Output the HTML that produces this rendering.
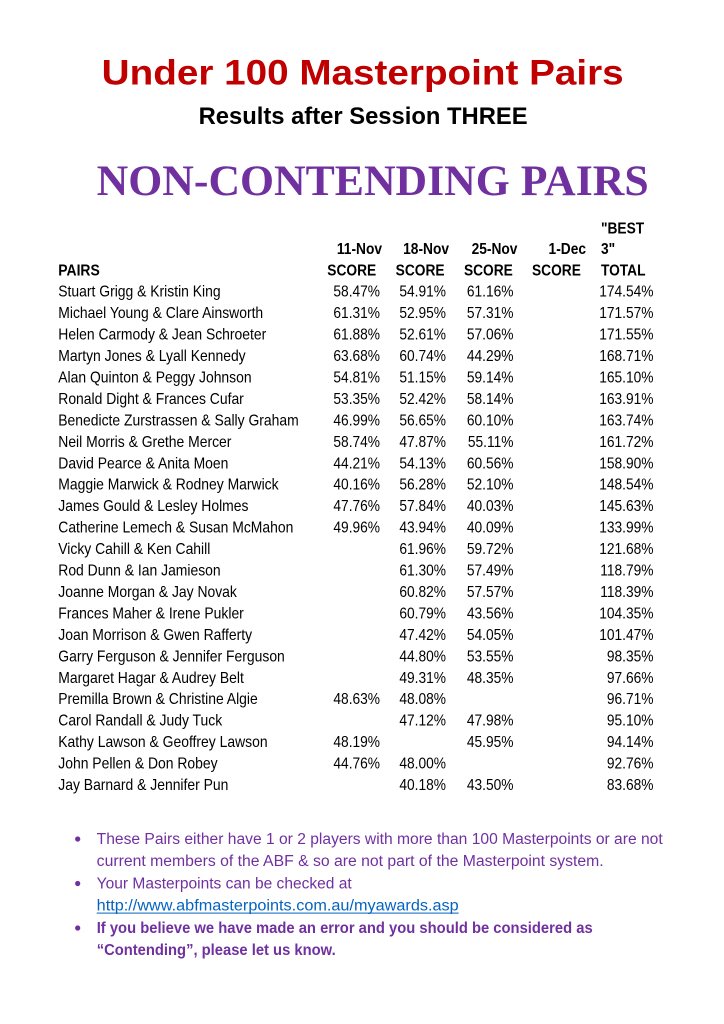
<!DOCTYPE html>
<html><head><meta charset="utf-8"><style>
html,body{margin:0;padding:0;background:#fff;}
svg{display:block;}
</style></head><body>
<svg width="724" height="1024" viewBox="0 0 724 1024" xmlns="http://www.w3.org/2000/svg">
<rect width="724" height="1024" fill="#fff"/>
<text x="101.7" y="84.3" font-family="Liberation Sans, sans-serif" font-weight="bold" font-size="35" fill="#C00000" textLength="522" lengthAdjust="spacingAndGlyphs">Under 100 Masterpoint Pairs</text>
<text x="198.6" y="124" font-family="Liberation Sans, sans-serif" font-weight="bold" font-size="24" fill="#000" textLength="329" lengthAdjust="spacingAndGlyphs">Results after Session THREE</text>
<text x="96.7" y="195" font-family="Liberation Serif, serif" font-weight="bold" font-size="43" fill="#7030A0" textLength="552" lengthAdjust="spacingAndGlyphs">NON-CONTENDING PAIRS</text>

<g transform="scale(0.87 1)" font-family="Liberation Sans, sans-serif" font-size="16" fill="#000">
<text x="67.0" y="275.7" font-weight="bold">PAIRS</text>
<text x="67.0" y="296.7">Stuart Grigg &amp; Kristin King</text>
<text x="67.0" y="318.15">Michael Young &amp; Clare Ainsworth</text>
<text x="67.0" y="339.6">Helen Carmody &amp; Jean Schroeter</text>
<text x="67.0" y="361.05">Martyn Jones &amp; Lyall Kennedy</text>
<text x="67.0" y="382.5">Alan Quinton &amp; Peggy Johnson</text>
<text x="67.0" y="403.95">Ronald Dight &amp; Frances Cufar</text>
<text x="67.0" y="425.4">Benedicte Zurstrassen &amp; Sally Graham</text>
<text x="67.0" y="446.85">Neil Morris &amp; Grethe Mercer</text>
<text x="67.0" y="468.3">David Pearce &amp; Anita Moen</text>
<text x="67.0" y="489.75">Maggie Marwick &amp; Rodney Marwick</text>
<text x="67.0" y="511.2">James Gould &amp; Lesley Holmes</text>
<text x="67.0" y="532.65">Catherine Lemech &amp; Susan McMahon</text>
<text x="67.0" y="554.1">Vicky Cahill &amp; Ken Cahill</text>
<text x="67.0" y="575.55">Rod Dunn &amp; Ian Jamieson</text>
<text x="67.0" y="597">Joanne Morgan &amp; Jay Novak</text>
<text x="67.0" y="618.45">Frances Maher &amp; Irene Pukler</text>
<text x="67.0" y="639.9">Joan Morrison &amp; Gwen Rafferty</text>
<text x="67.0" y="661.35">Garry Ferguson &amp; Jennifer Ferguson</text>
<text x="67.0" y="682.8">Margaret Hagar &amp; Audrey Belt</text>
<text x="67.0" y="704.25">Premilla Brown &amp; Christine Algie</text>
<text x="67.0" y="725.7">Carol Randall &amp; Judy Tuck</text>
<text x="67.0" y="747.15">Kathy Lawson &amp; Geoffrey Lawson</text>
<text x="67.0" y="768.6">John Pellen &amp; Don Robey</text>
<text x="67.0" y="790.05">Jay Barnard &amp; Jennifer Pun</text>
</g>

<g transform="scale(0.86 1)" font-family="Liberation Sans, sans-serif" font-size="16" fill="#000">
<g font-weight="bold">
<text x="698.8" y="233.3">"BEST</text>
<text x="444.2" y="254" text-anchor="end">11-Nov</text>
<text x="522.1" y="254" text-anchor="end">18-Nov</text>
<text x="601.7" y="254" text-anchor="end">25-Nov</text>
<text x="681.4" y="254" text-anchor="end">1-Dec</text>
<text x="698.8" y="254">3"</text>
<text x="380.6" y="275.7">SCORE</text>
<text x="460.1" y="275.7">SCORE</text>
<text x="539.5" y="275.7">SCORE</text>
<text x="618.6" y="275.7">SCORE</text>
<text x="698.8" y="275.7">TOTAL</text>
</g>
<g>
<text x="441.9" y="296.7" text-anchor="end">58.47%</text><text x="518.6" y="296.7" text-anchor="end">54.91%</text><text x="597.1" y="296.7" text-anchor="end">61.16%</text><text x="759.9" y="296.7" text-anchor="end">174.54%</text>

<text x="441.9" y="318.15" text-anchor="end">61.31%</text><text x="518.6" y="318.15" text-anchor="end">52.95%</text><text x="597.1" y="318.15" text-anchor="end">57.31%</text><text x="759.9" y="318.15" text-anchor="end">171.57%</text>

<text x="441.9" y="339.6" text-anchor="end">61.88%</text><text x="518.6" y="339.6" text-anchor="end">52.61%</text><text x="597.1" y="339.6" text-anchor="end">57.06%</text><text x="759.9" y="339.6" text-anchor="end">171.55%</text>

<text x="441.9" y="361.05" text-anchor="end">63.68%</text><text x="518.6" y="361.05" text-anchor="end">60.74%</text><text x="597.1" y="361.05" text-anchor="end">44.29%</text><text x="759.9" y="361.05" text-anchor="end">168.71%</text>

<text x="441.9" y="382.5" text-anchor="end">54.81%</text><text x="518.6" y="382.5" text-anchor="end">51.15%</text><text x="597.1" y="382.5" text-anchor="end">59.14%</text><text x="759.9" y="382.5" text-anchor="end">165.10%</text>

<text x="441.9" y="403.95" text-anchor="end">53.35%</text><text x="518.6" y="403.95" text-anchor="end">52.42%</text><text x="597.1" y="403.95" text-anchor="end">58.14%</text><text x="759.9" y="403.95" text-anchor="end">163.91%</text>

<text x="441.9" y="425.4" text-anchor="end">46.99%</text><text x="518.6" y="425.4" text-anchor="end">56.65%</text><text x="597.1" y="425.4" text-anchor="end">60.10%</text><text x="759.9" y="425.4" text-anchor="end">163.74%</text>

<text x="441.9" y="446.85" text-anchor="end">58.74%</text><text x="518.6" y="446.85" text-anchor="end">47.87%</text><text x="597.1" y="446.85" text-anchor="end">55.11%</text><text x="759.9" y="446.85" text-anchor="end">161.72%</text>

<text x="441.9" y="468.3" text-anchor="end">44.21%</text><text x="518.6" y="468.3" text-anchor="end">54.13%</text><text x="597.1" y="468.3" text-anchor="end">60.56%</text><text x="759.9" y="468.3" text-anchor="end">158.90%</text>

<text x="441.9" y="489.75" text-anchor="end">40.16%</text><text x="518.6" y="489.75" text-anchor="end">56.28%</text><text x="597.1" y="489.75" text-anchor="end">52.10%</text><text x="759.9" y="489.75" text-anchor="end">148.54%</text>

<text x="441.9" y="511.2" text-anchor="end">47.76%</text><text x="518.6" y="511.2" text-anchor="end">57.84%</text><text x="597.1" y="511.2" text-anchor="end">40.03%</text><text x="759.9" y="511.2" text-anchor="end">145.63%</text>

<text x="441.9" y="532.65" text-anchor="end">49.96%</text><text x="518.6" y="532.65" text-anchor="end">43.94%</text><text x="597.1" y="532.65" text-anchor="end">40.09%</text><text x="759.9" y="532.65" text-anchor="end">133.99%</text>

<text x="518.6" y="554.1" text-anchor="end">61.96%</text><text x="597.1" y="554.1" text-anchor="end">59.72%</text><text x="759.9" y="554.1" text-anchor="end">121.68%</text>

<text x="518.6" y="575.55" text-anchor="end">61.30%</text><text x="597.1" y="575.55" text-anchor="end">57.49%</text><text x="759.9" y="575.55" text-anchor="end">118.79%</text>

<text x="518.6" y="597" text-anchor="end">60.82%</text><text x="597.1" y="597" text-anchor="end">57.57%</text><text x="759.9" y="597" text-anchor="end">118.39%</text>

<text x="518.6" y="618.45" text-anchor="end">60.79%</text><text x="597.1" y="618.45" text-anchor="end">43.56%</text><text x="759.9" y="618.45" text-anchor="end">104.35%</text>

<text x="518.6" y="639.9" text-anchor="end">47.42%</text><text x="597.1" y="639.9" text-anchor="end">54.05%</text><text x="759.9" y="639.9" text-anchor="end">101.47%</text>

<text x="518.6" y="661.35" text-anchor="end">44.80%</text><text x="597.1" y="661.35" text-anchor="end">53.55%</text><text x="759.9" y="661.35" text-anchor="end">98.35%</text>

<text x="518.6" y="682.8" text-anchor="end">49.31%</text><text x="597.1" y="682.8" text-anchor="end">48.35%</text><text x="759.9" y="682.8" text-anchor="end">97.66%</text>

<text x="441.9" y="704.25" text-anchor="end">48.63%</text><text x="518.6" y="704.25" text-anchor="end">48.08%</text><text x="759.9" y="704.25" text-anchor="end">96.71%</text>

<text x="518.6" y="725.7" text-anchor="end">47.12%</text><text x="597.1" y="725.7" text-anchor="end">47.98%</text><text x="759.9" y="725.7" text-anchor="end">95.10%</text>

<text x="441.9" y="747.15" text-anchor="end">48.19%</text><text x="597.1" y="747.15" text-anchor="end">45.95%</text><text x="759.9" y="747.15" text-anchor="end">94.14%</text>

<text x="441.9" y="768.6" text-anchor="end">44.76%</text><text x="518.6" y="768.6" text-anchor="end">48.00%</text><text x="759.9" y="768.6" text-anchor="end">92.76%</text>

<text x="518.6" y="790.05" text-anchor="end">40.18%</text><text x="597.1" y="790.05" text-anchor="end">43.50%</text><text x="759.9" y="790.05" text-anchor="end">83.68%</text>
</g>
</g>

<g fill="#7030A0">
<circle cx="77.7" cy="839" r="2.6"/>
<circle cx="77.7" cy="883.5" r="2.6"/>
<circle cx="77.7" cy="928" r="2.6"/>
</g>
<g font-family="Liberation Sans, sans-serif" font-size="15.5" fill="#7030A0">
<text x="96.7" y="844" textLength="566" lengthAdjust="spacingAndGlyphs">These Pairs either have 1 or 2 players with more than 100 Masterpoints or are not</text>
<text x="96.7" y="866.2" textLength="507" lengthAdjust="spacingAndGlyphs">current members of the ABF &amp; so are not part of the Masterpoint system.</text>
<text x="96.7" y="888.5" textLength="255" lengthAdjust="spacingAndGlyphs">Your Masterpoints can be checked at</text>
<text x="96.7" y="910.7" fill="#0563C1" textLength="362" lengthAdjust="spacingAndGlyphs">http://www.abfmasterpoints.com.au/myawards.asp</text>
<text x="96.7" y="933" font-weight="bold" textLength="496" lengthAdjust="spacingAndGlyphs">If you believe we have made an error and you should be considered as</text>
<text x="96.7" y="955.2" font-weight="bold" textLength="239" lengthAdjust="spacingAndGlyphs">“Contending”, please let us know.</text>
</g>
<rect x="96.7" y="912.6" width="362" height="1" fill="#0563C1"/>
</svg>
</body></html>
